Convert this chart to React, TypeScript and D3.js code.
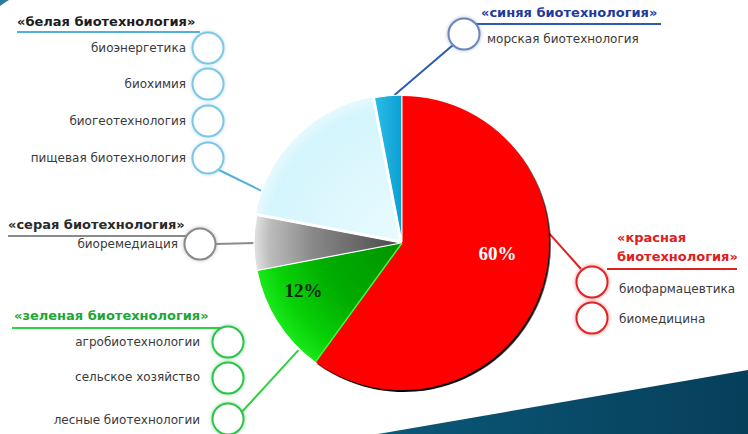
import React from "react";
import * as d3 from "d3";

// ---------- data ----------
const sectors = ["красная", "зеленая", "серая", "белая", "синяя"];
const shares = [60, 12, 6, 19, 3];
const shareLabels = ["60%", "12%", "", "", ""];

const whiteTitle = ["«белая биотехнология»"];
const whiteItems = ["биоэнергетика", "биохимия", "биогеотехнология", "пищевая биотехнология"];
const blueTitle = ["«синяя биотехнология»"];
const blueItems = ["морская биотехнология"];
const greyTitle = ["«серая биотехнология»"];
const greyItems = ["биоремедиация"];
const greenTitle = ["«зеленая биотехнология»"];
const greenItems = ["агробиотехнологии", "сельское хозяйство", "лесные биотехнологии"];
const redTitle = ["«красная", "биотехнология»"];
const redItems = ["биофармацевтика", "биомедицина"];

// ---------- layout / style ----------
const W = 748;
const H = 434;
const CX = 402;
const CY = 243;
const R = 147;
const FONT = "'DejaVu Sans', sans-serif";

const sliceFill: Record<string, string> = {
  "красная": "#ff0000",
  "зеленая": "url(#gGreen)",
  "серая": "url(#gGrey)",
  "белая": "url(#gWhite)",
  "синяя": "url(#gBlue)",
};
const sliceOffset: Record<string, number> = {
  "красная": 0,
  "зеленая": 0,
  "серая": 1,
  "белая": 3,
  "синяя": 1,
};
// label placement: [angle in degrees, radius]
const labelPlace: Record<string, [number, number]> = {
  "красная": [96, 96],
  "зеленая": [244.5, 109],
};
const labelColor: Record<string, string> = {
  "красная": "#ffffff",
  "зеленая": "#0c2a0c",
};

type Group = {
  title: string[];
  items: string[];
  color: string;
  titleColor: string;
  lineColor: string;
  titleX: number;
  titleY: number[];
  underline: [number, number, number];
  circleX: number;
  circleYs: number[];
  textAnchor: "start" | "end";
  textX: number;
  textYs: number[];
  conn: [number, number];
  connAngleDeg: number;
  connR: number;
};

const groups: Group[] = [
  {
    title: whiteTitle, items: whiteItems, color: "#7cc6e6", titleColor: "#1c1c1c", lineColor: "#4fb0dc",
    titleX: 17, titleY: [26], underline: [17, 200, 32],
    circleX: 208, circleYs: [48, 84, 121, 158],
    textAnchor: "end", textX: 186, textYs: [52, 88, 125, 162],
    conn: [219, 170], connAngleDeg: 290, connR: 142,
  },
  {
    title: blueTitle, items: blueItems, color: "#6a86b8", titleColor: "#1f3a9c", lineColor: "#2c5cb0",
    titleX: 481, titleY: [17], underline: [474, 661, 24],
    circleX: 464, circleYs: [34],
    textAnchor: "start", textX: 487, textYs: [43],
    conn: [453, 45], connAngleDeg: 357, connR: 148,
  },
  {
    title: greyTitle, items: greyItems, color: "#8a8a8a", titleColor: "#2a2a2a", lineColor: "#8a8a8a",
    titleX: 8, titleY: [229], underline: [8, 192, 236],
    circleX: 200, circleYs: [244],
    textAnchor: "end", textX: 178, textYs: [248],
    conn: [215, 244], connAngleDeg: 270, connR: 146,
  },
  {
    title: greenTitle, items: greenItems, color: "#2fc24a", titleColor: "#1fa535", lineColor: "#2ed13f",
    titleX: 14, titleY: [320], underline: [12, 222, 328],
    circleX: 228, circleYs: [342, 378, 419],
    textAnchor: "end", textX: 200, textYs: [346, 381, 424],
    conn: [240, 414], connAngleDeg: 224, connR: 149,
  },
  {
    title: redTitle, items: redItems, color: "#e02424", titleColor: "#dd2020", lineColor: "#dd2222",
    titleX: 617, titleY: [242, 261], underline: [607, 737, 269],
    circleX: 592, circleYs: [282, 318],
    textAnchor: "start", textX: 619, textYs: [293, 323],
    conn: [581, 269], connAngleDeg: 85.5, connR: 146,
  },
];

const polar = (deg: number, r: number): [number, number] => {
  const a = (deg * Math.PI) / 180;
  return [CX + r * Math.sin(a), CY - r * Math.cos(a)];
};

export default function App() {
  const pie = d3.pie<number>().sort(null).value((d) => d);
  const arcs = pie(shares);
  const arcGen = d3.arc<d3.PieArcDatum<number>>().innerRadius(0).outerRadius(R);

  const sliceShift = (a: d3.PieArcDatum<number>, name: string): [number, number] => {
    const mid = (a.startAngle + a.endAngle) / 2;
    const o = sliceOffset[name];
    return [o * Math.sin(mid), -o * Math.cos(mid)];
  };

  const greenArc = arcs[1];
  const greenRedEdge = polar((greenArc.startAngle * 180) / Math.PI, R);

  return (
    <div style={{ position: "fixed", left: 0, top: 0, width: W, height: H }}>
      <svg width={W} height={H} viewBox={`0 0 ${W} ${H}`} style={{ display: "block" }}>
        <defs>
          <radialGradient id="gGreen" gradientUnits="userSpaceOnUse" cx={0} cy={0} r={R}>
            <stop offset="0" stopColor="#009400" />
            <stop offset="0.55" stopColor="#00ad00" />
            <stop offset="0.85" stopColor="#08d208" />
            <stop offset="1" stopColor="#18e818" />
          </radialGradient>
          <radialGradient id="gGrey" gradientUnits="userSpaceOnUse" cx={0} cy={0} r={R}>
            <stop offset="0" stopColor="#4a4a4a" />
            <stop offset="0.6" stopColor="#888888" />
            <stop offset="0.9" stopColor="#bdbdbd" />
            <stop offset="1" stopColor="#e2e2e2" />
          </radialGradient>
          <radialGradient id="gWhite" gradientUnits="userSpaceOnUse" cx={0} cy={0} r={R}>
            <stop offset="0" stopColor="#e8fbff" />
            <stop offset="0.9" stopColor="#d4f5fc" />
            <stop offset="1" stopColor="#e6f9fe" />
          </radialGradient>
          <linearGradient id="gBlue" x1="0" x2="1" y1="0" y2="0">
            <stop offset="0" stopColor="#2cbde8" />
            <stop offset="1" stopColor="#0b9fd2" />
          </linearGradient>
          <linearGradient id="gBand" x1="0" x2="1" y1="0" y2="0">
            <stop offset="0" stopColor="#0b5878" />
            <stop offset="1" stopColor="#063f5a" />
          </linearGradient>
          <filter id="shadow" x="-10%" y="-10%" width="130%" height="130%">
            <feDropShadow dx="1.6" dy="2" stdDeviation="0.7" floodColor="#000" floodOpacity="1" />
          </filter>
          <filter id="glow" x="-50%" y="-50%" width="200%" height="200%">
            <feGaussianBlur stdDeviation="1.6" />
          </filter>
        </defs>

        <rect x={0} y={0} width={W} height={H} fill="#ffffff" />
        {/* bottom-right band */}
        <path d={`M378,${H} L${W},370 L${W},${H} Z`} fill="url(#gBand)" />
        <path d={`M0,0 L9,0 Q4,3 0,6 Z`} fill="#2d7aa0" />

        {/* connectors */}
        {groups.map((g, i) => {
          const p = polar(g.connAngleDeg, g.connR);
          return (
            <line key={"c" + i} x1={g.conn[0]} y1={g.conn[1]} x2={p[0]} y2={p[1]}
              stroke={g.lineColor} strokeWidth={2} />
          );
        })}

        {/* pie */}
        <g>
          {arcs.map((a, i) => {
            const name = sectors[i];
            const [dx, dy] = sliceShift(a, name);
            const plain = name === "красная" || name === "зеленая";
            return (
              <path key={"s" + i} d={arcGen(a) || ""} transform={`translate(${CX + dx},${CY + dy})`}
                fill={sliceFill[name]}
                stroke={plain ? "none" : "#ffffff"}
                strokeWidth={plain ? 0 : 1.2}
                filter={name === "красная" ? "url(#shadow)" : undefined} />
            );
          })}
          <line x1={CX} y1={CY} x2={greenRedEdge[0]} y2={greenRedEdge[1]} stroke="#3cff3c" strokeWidth={1.5} />
          {arcs.map((a, i) => {
            const name = sectors[i];
            if (!shareLabels[i] || !labelPlace[name]) return null;
            const [px, py] = polar(labelPlace[name][0], labelPlace[name][1]);
            return (
              <text key={"l" + i} x={px} y={py} dy="0.35em"
                textAnchor="middle" fontFamily="'Liberation Serif', serif" fontWeight="bold" fontSize={19}
                fill={labelColor[name]}>{shareLabels[i]}</text>
            );
          })}
        </g>

        {/* label groups */}
        {groups.map((g, gi) => (
          <g key={"g" + gi}>
            <line x1={g.underline[0]} x2={g.underline[1]} y1={g.underline[2]} y2={g.underline[2]}
              stroke={g.lineColor} strokeWidth={2.2} />
            {g.title.map((t, ti) => (
              <text key={"t" + ti} x={g.titleX} y={g.titleY[ti]} fontFamily={FONT} fontWeight="bold"
                fontSize={13} fill={g.titleColor}>{t}</text>
            ))}
            {g.circleYs.map((cy, ci) => (
              <g key={"o" + ci}>
                <circle cx={g.circleX} cy={cy} r={15.5} fill="none" stroke={g.color} strokeWidth={4}
                  opacity={0.35} filter="url(#glow)" />
                <circle cx={g.circleX} cy={cy} r={15.5} fill="#ffffff" stroke={g.color} strokeWidth={2} />
              </g>
            ))}
            {g.items.map((t, ti) => (
              <text key={"i" + ti} x={g.textX} y={g.textYs[ti]} textAnchor={g.textAnchor}
                fontFamily={FONT} fontSize={12} fill="#3a3a3a">{t}</text>
            ))}
          </g>
        ))}
      </svg>
    </div>
  );
}
